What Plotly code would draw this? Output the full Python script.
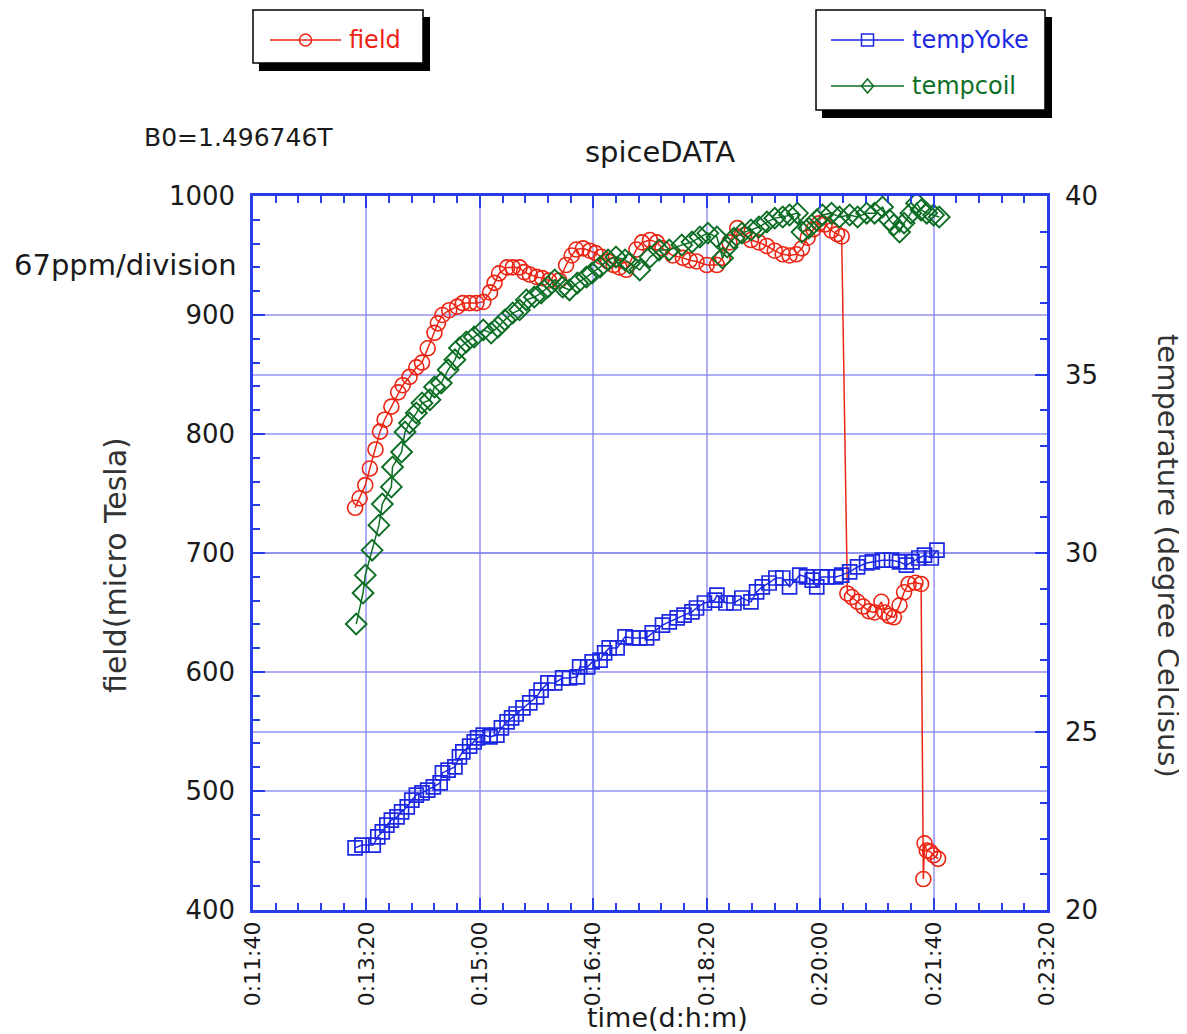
import plotly.graph_objects as go

# ---------------- data ----------------
field_t = [790, 794, 799, 803, 808, 812, 816, 822, 828, 832, 838, 844, 849, 854, 860, 863,
           867, 873, 880, 885, 891, 897, 903, 909, 913, 917, 924, 929, 935, 939, 944, 950,
           955, 961, 970, 976, 981, 985, 991, 997, 1002, 1007, 1013, 1018, 1023, 1029, 1038,
           1043, 1050, 1056, 1061, 1070, 1079, 1085, 1091, 1100, 1109, 1114, 1120, 1127, 1133,
           1139, 1146, 1153, 1160, 1167, 1173, 1179, 1184, 1189, 1194, 1199, 1204, 1210, 1215,
           1219, 1224, 1228, 1233, 1238, 1243, 1248, 1254, 1257, 1261, 1265, 1270, 1274, 1278,
           1284, 1289, 1291, 1292, 1294, 1297, 1300, 1304]
field_v = [738, 746, 757, 771, 787, 802, 812, 823, 835, 841, 848, 856, 860, 872, 885, 893,
           900, 904, 907, 910, 910, 910, 911, 919, 927, 935, 940, 940, 940, 936, 934, 932,
           931, 929, 929, 942, 950, 955, 956, 954, 952, 949, 945, 942, 940, 938, 955,
           961, 963, 961, 956, 950, 948, 946, 945, 942, 942, 948, 961, 973, 967,
           963, 961, 958, 954, 951, 950, 951, 956, 965, 972, 977, 976, 971, 968,
           966, 666, 663, 659, 655, 651, 650, 659, 650, 647, 646, 656, 667, 674,
           675, 674, 426, 456, 450, 449, 446, 443]

coil_t = [791, 797, 799, 805, 811, 814, 822, 823, 831, 834, 838, 844, 849, 856, 860, 866,
          872, 878, 882, 888, 895, 903, 910, 916, 922, 929, 935, 941, 948, 954, 960, 966,
          973, 979, 986, 994, 999, 1006, 1013, 1020, 1028, 1032, 1041, 1050, 1058, 1067,
          1078, 1087, 1094, 1101, 1109, 1114, 1118, 1124, 1131, 1139, 1146, 1153, 1160,
          1167, 1173, 1180, 1184, 1190, 1197, 1202, 1210, 1217, 1226, 1233, 1241, 1248,
          1255, 1261, 1265, 1270, 1274, 1280, 1285, 1289, 1294, 1300, 1305]
coil_v = [28.01, 28.88, 29.38, 30.08, 30.78, 31.37, 31.85, 32.41, 32.83, 33.39, 33.64, 33.92,
          34.20, 34.29, 34.65, 34.76, 35.13, 35.41, 35.74, 35.91, 36.05, 36.25, 36.16, 36.33,
          36.53, 36.72, 36.81, 37.09, 37.17, 37.28, 37.45, 37.65, 37.45, 37.37, 37.56, 37.73,
          37.84, 38.01, 38.21, 38.29, 38.21, 38.12, 37.93, 38.29, 38.49, 38.49, 38.63, 38.71,
          38.85, 38.96, 38.85, 38.26, 38.57, 38.82, 38.96, 39.05, 39.13, 39.27, 39.38, 39.41,
          39.47, 39.52, 38.99, 39.10, 39.33, 39.47, 39.52, 39.41, 39.47, 39.41, 39.52, 39.52,
          39.69, 39.33, 39.19, 38.99, 39.24, 39.52, 39.80, 39.61, 39.52, 39.47, 39.41]

yoke_t = [790, 796, 806, 810, 814, 818, 822, 827, 831, 836, 840, 844, 849, 854, 859, 865,
          867, 872, 878, 882, 885, 891, 895, 898, 903, 909, 915, 919, 924, 928, 932, 938,
          944, 950, 954, 960, 966, 973, 979, 986, 988, 995, 999, 1006, 1010, 1014, 1021,
          1028, 1035, 1041, 1047, 1052, 1061, 1067, 1074, 1080, 1087, 1091, 1098, 1107,
          1109, 1117, 1124, 1131, 1139, 1144, 1149, 1155, 1161, 1167, 1173, 1182, 1188,
          1193, 1197, 1201, 1206, 1214, 1219, 1226, 1233, 1241, 1246, 1255, 1263, 1270,
          1276, 1281, 1287, 1292, 1298, 1303]
yoke_v = [21.74, 21.82, 21.82, 22.05, 22.19, 22.38, 22.52, 22.61, 22.75, 22.89, 23.08, 23.22,
          23.28, 23.36, 23.45, 23.56, 23.84, 23.92, 24.01, 24.29, 24.43, 24.59, 24.71, 24.82,
          24.90, 24.85, 24.90, 25.10, 25.27, 25.38, 25.49, 25.66, 25.80, 25.97, 26.16, 26.36,
          26.36, 26.50, 26.50, 26.53, 26.81, 26.81, 26.95, 27.00, 27.20, 27.34, 27.34, 27.65,
          27.62, 27.62, 27.62, 27.76, 27.98, 28.07, 28.18, 28.26, 28.35, 28.46, 28.60, 28.68,
          28.82, 28.60, 28.60, 28.74, 28.63, 28.91, 29.05, 29.16, 29.30, 29.30, 29.05, 29.38,
          29.33, 29.24, 29.05, 29.33, 29.33, 29.33, 29.38, 29.47, 29.61, 29.72, 29.75, 29.80,
          29.80, 29.75, 29.66, 29.75, 29.86, 29.94, 29.86, 30.08]

time_ticks = [700, 800, 900, 1000, 1100, 1200, 1300, 1400]
time_labels = ["0:11:40", "0:13:20", "0:15:00", "0:16:40", "0:18:20", "0:20:00", "0:21:40", "0:23:20"]

# ---------------- styling ----------------
RED = "rgb(236,36,20)"
BLUE = "rgb(28,40,226)"
GREEN = "rgb(12,110,36)"
AXIS = "rgb(40,60,232)"
GRID = "rgba(130,130,238,0.65)"
FONT = "DejaVu Sans"
TXT = "#1a1a1a"

OFF = 8                      # page body margin of the html page
W, H = 1187 - OFF, 1034 - OFF
L, R, T, B = 253, 1047, 196, 910   # plot area in window pixels


def px(x):
    return (x - L) / (R - L)


def py(y):
    return (B - y) / (B - T)


fig = go.Figure()
fig.add_trace(go.Scatter(x=field_t, y=field_v, mode="lines+markers", name="field",
                         line=dict(color=RED, width=1.5),
                         marker=dict(symbol="circle-open", size=15, color=RED, line=dict(width=1.6))))
fig.add_trace(go.Scatter(x=yoke_t, y=yoke_v, mode="lines+markers", name="tempYoke", yaxis="y2",
                         line=dict(color=BLUE, width=1.5),
                         marker=dict(symbol="square-open", size=14, color=BLUE, line=dict(width=1.7))))
fig.add_trace(go.Scatter(x=coil_t, y=coil_v, mode="lines+markers", name="tempcoil", yaxis="y2",
                         line=dict(color=GREEN, width=1.5),
                         marker=dict(symbol="diamond-open", size=16, color=GREEN, line=dict(width=1.9))))

shapes = []
# legend boxes with drop shadows
for (x0, y0, x1, y1) in [(253, 10, 423, 63), (816, 10, 1045, 110)]:
    shapes.append(dict(type="rect", xref="paper", yref="paper",
                       x0=px(x0 + 6), x1=px(x1 + 7), y0=py(y0 + 7), y1=py(y1 + 8),
                       fillcolor="black", line=dict(width=0), layer="above"))
    shapes.append(dict(type="rect", xref="paper", yref="paper",
                       x0=px(x0), x1=px(x1), y0=py(y0), y1=py(y1),
                       fillcolor="white", line=dict(color="black", width=1.5), layer="above"))

# legend samples
legend_items = [("field", RED, 270, 341, 40, "circle"),
                ("tempYoke", BLUE, 831, 904, 40, "square"),
                ("tempcoil", GREEN, 831, 904, 86, "diamond")]
annotations = []
for name, col, lx0, lx1, ly, sym in legend_items:
    shapes.append(dict(type="line", xref="paper", yref="paper", x0=px(lx0), x1=px(lx1),
                       y0=py(ly), y1=py(ly), line=dict(color=col, width=1.5), layer="above"))
    cx = (lx0 + lx1) / 2
    r = 6
    if sym == "circle":
        shapes.append(dict(type="circle", xref="paper", yref="paper", x0=px(cx - r), x1=px(cx + r),
                           y0=py(ly - r), y1=py(ly + r), line=dict(color=col, width=1.5), layer="above"))
    elif sym == "square":
        shapes.append(dict(type="rect", xref="paper", yref="paper", x0=px(cx - r), x1=px(cx + r),
                           y0=py(ly - r), y1=py(ly + r), line=dict(color=col, width=1.5), layer="above"))
    else:
        path = "M {} {} L {} {} L {} {} L {} {} Z".format(
            px(cx), py(ly - 7), px(cx + 6), py(ly), px(cx), py(ly + 7), px(cx - 6), py(ly))
        shapes.append(dict(type="path", xref="paper", yref="paper", path=path,
                           line=dict(color=col, width=1.5), layer="above"))
    annotations.append(dict(text=name, xref="paper", yref="paper", x=px(lx1 + 6), y=py(ly),
                            xanchor="left", yanchor="middle", showarrow=False,
                            font=dict(family=FONT, size=24, color=col)))

# titles & notes
annotations += [
    dict(text="spiceDATA", x=px(660), y=py(152), font=dict(family=FONT, size=29, color=TXT)),
    dict(text="B0=1.496746T", x=px(238), y=py(137), font=dict(family=FONT, size=25, color=TXT)),
    dict(text="67ppm/division", x=px(125), y=py(265), font=dict(family=FONT, size=29, color=TXT)),
    dict(text="field(micro Tesla)", x=px(115), y=py(565), textangle=-90,
         font=dict(family=FONT, size=30, color="#333")),
    dict(text="temperature (degree Celcisus)", x=px(1168), y=py(556), textangle=90,
         font=dict(family=FONT, size=29, color="#333")),
    dict(text="time(d:h:m)", x=px(667), y=py(1018), font=dict(family=FONT, size=27, color=TXT)),
]
for a in annotations[3:]:
    a.update(xref="paper", yref="paper", showarrow=False, xanchor="center", yanchor="middle")

fig.update_layout(
    width=W, height=H,
    margin=dict(l=L - OFF, r=W - (R - OFF), t=T - OFF, b=H - (B - OFF), pad=0),
    paper_bgcolor="white", plot_bgcolor="white",
    showlegend=False,
    shapes=shapes, annotations=annotations,
    font=dict(family=FONT, color=TXT),
    xaxis=dict(range=[700, 1400], tickmode="array", tickvals=time_ticks, ticktext=time_labels,
               tickangle=-90, tickfont=dict(family=FONT, size=22, color=TXT),
               ticks="inside", ticklen=12, tickwidth=2, tickcolor=AXIS,
               showline=True, linecolor=AXIS, linewidth=2.5, mirror="ticks",
               showgrid=True, gridcolor=GRID, gridwidth=1.5, zeroline=False,
               minor=dict(dtick=20, tick0=700, ticks="inside", ticklen=7, tickwidth=2,
                          tickcolor=AXIS, showgrid=False)),
    yaxis=dict(range=[400, 1000], dtick=100, tick0=400,
               tickfont=dict(family=FONT, size=26, color=TXT), ticklabelstandoff=10,
               ticks="inside", ticklen=12, tickwidth=2, tickcolor=AXIS,
               showline=True, linecolor=AXIS, linewidth=2.5,
               showgrid=True, gridcolor=GRID, gridwidth=1.5, zeroline=False,
               minor=dict(dtick=20, ticks="inside", ticklen=7, tickwidth=2,
                          tickcolor=AXIS, showgrid=False)),
    yaxis2=dict(range=[20, 40], dtick=5, tick0=20, overlaying="y", side="right", anchor="x",
                tickfont=dict(family=FONT, size=26, color=TXT), ticklabelstandoff=10,
                ticks="inside", ticklen=12, tickwidth=2, tickcolor=AXIS,
                showline=True, linecolor=AXIS, linewidth=2.5,
                showgrid=True, gridcolor=GRID, gridwidth=1.5, zeroline=False,
                minor=dict(dtick=1, ticks="inside", ticklen=7, tickwidth=2,
                           tickcolor=AXIS, showgrid=False)),
)

fig.write_html("out.html")
